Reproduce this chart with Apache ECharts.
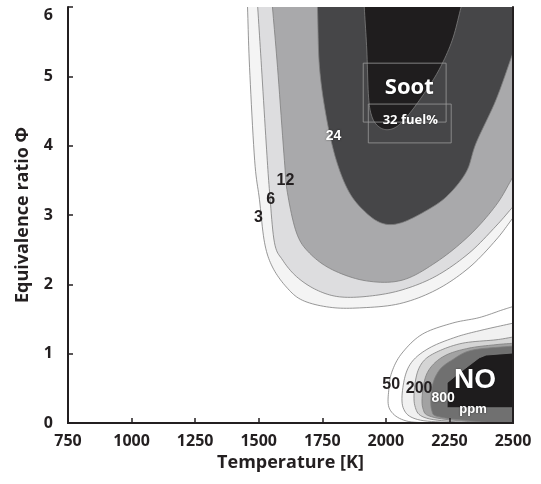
<!DOCTYPE html>
<html>
<head>
<meta charset="utf-8">
<script src="https://cdn.jsdelivr.net/npm/echarts@6/dist/echarts.min.js"></script>
<style>
  html, body { margin: 0; padding: 0; background: #fff; }
  #chart { width: 541px; height: 484px; }
</style>
</head>
<body>
<div id="chart"></div>
<script>
// ── Axes ──────────────────────────────────────────────────────────────
const tempRange = [750, 2500];   // K
const phiRange = [0, 6];

// ── Soot contours: fuel% levels, points are [T (K), phi] ─────────────
const sootLevels = [3, 6, 12, 24, 32];
const soot3 = [[1456, 6.0], [1464, 5.13], [1484, 3.79], [1503, 3.22], [1523, 2.60], [1554, 2.25],
  [1609, 1.96], [1672, 1.77], [1778, 1.67], [1896, 1.66], [2053, 1.72], [2198, 1.92],
  [2327, 2.24], [2433, 2.64], [2500, 2.96]];
const soot6 = [[1496, 6.0], [1511, 5.13], [1531, 3.94], [1543, 3.32], [1562, 2.60], [1594, 2.35],
  [1649, 2.11], [1727, 1.92], [1817, 1.82], [1935, 1.83], [2064, 1.92], [2198, 2.12],
  [2327, 2.45], [2433, 2.84], [2500, 3.12]];
const soot12 = [[1554, 6.0], [1574, 5.13], [1601, 3.79], [1613, 3.32], [1649, 2.74], [1700, 2.45],
  [1790, 2.21], [1923, 2.05], [2064, 2.06], [2198, 2.32], [2327, 2.70], [2433, 3.14],
  [2500, 3.55]];
const soot24 = [[1731, 6.0], [1739, 5.13], [1766, 4.41], [1805, 3.79], [1857, 3.32], [1923, 3.03],
  [1986, 2.88], [2053, 2.88], [2143, 3.03], [2237, 3.26], [2316, 3.62], [2355, 4.04],
  [2433, 4.66], [2500, 5.34]];
const soot32 = [[1915, 6.0], [1925, 5.38], [1932, 4.70], [1945, 4.42], [1970, 4.28], [2005, 4.23],
  [2045, 4.28], [2090, 4.45], [2150, 4.75], [2210, 5.10], [2261, 5.52], [2296, 6.0]];

// ── NO contours (ppm); 50 / 200 / 800 are labelled, the rest are bands
const noLevels = [50, 100, 200, 400, 800, 1600];
const no50 = [[2210, 0], [2080, 0.03], [2015, 0.2], [2012, 0.5], [2025, 0.75], [2064, 1.01],
  [2143, 1.28], [2261, 1.44], [2367, 1.52], [2457, 1.63], [2500, 1.68]];
const no100 = [[2280, 0], [2125, 0.05], [2068, 0.22], [2070, 0.58], [2100, 0.87], [2170, 1.08],
  [2276, 1.24], [2378, 1.34], [2500, 1.44]];
const no200 = [[2330, 0], [2160, 0.07], [2114, 0.25], [2117, 0.62], [2143, 0.87], [2198, 1.02],
  [2300, 1.15], [2433, 1.20], [2500, 1.24]];
const no400 = [[2380, 0], [2190, 0.08], [2145, 0.22], [2150, 0.58], [2178, 0.81], [2237, 0.98],
  [2327, 1.08], [2433, 1.13], [2500, 1.15]];
const no800 = [[2420, 0], [2220, 0.08], [2180, 0.19], [2182, 0.52], [2210, 0.76], [2261, 0.91],
  [2339, 1.05], [2500, 1.11]];
const no1600 = [[2500, 0.22], [2241, 0.22], [2241, 0.58], [2288, 0.72], [2367, 0.94], [2394, 0.98],
  [2500, 1.01]];

// ── Annotations [T, phi, text] ───────────────────────────────────────
const labels = [
  [2092, 4.83, 'Soot'], [2096, 4.37, '32 fuel%'], [1794, 4.14, '24'],
  [1605, 3.49, '12'], [1547, 3.22, '6'], [1499, 2.96, '3'],
  [2351, 0.61, 'NO'], [2021, 0.55, '50'], [2131, 0.50, '200'],
  [2225, 0.36, '800'], [2343, 0.19, 'ppm']
];
const labelBoxes = [[1911, 5.19, 2237, 4.34], [1931, 4.60, 2257, 4.04]];

// ── Styling ──────────────────────────────────────────────────────────
const INK = '#231f20';
const FONT = '"Open Sans", "Liberation Sans", sans-serif';

// kind: how the open curve is closed outside the plot frame
const contours = [
  { pts: soot3, kind: 'top', fill: '#f4f4f4', smooth: true },
  { pts: soot6, kind: 'top', fill: '#dddddf', smooth: true },
  { pts: soot12, kind: 'top', fill: '#a9a9ab', smooth: true },
  { pts: soot24, kind: 'top', fill: '#464648', smooth: true },
  { pts: soot32, kind: 'cap', fill: '#1f1d1e', smooth: true },
  { pts: no50, kind: 'bottom', fill: '#ffffff', smooth: true },
  { pts: no100, kind: 'bottom', fill: '#f1f1f1', smooth: true },
  { pts: no200, kind: 'bottom', fill: '#d5d5d5', smooth: true },
  { pts: no400, kind: 'bottom', fill: '#a2a2a2', smooth: true },
  { pts: no800, kind: 'bottom', fill: '#707070', smooth: true },
  { pts: no1600, kind: 'right', fill: '#1e1c1d', smooth: false }
];

const labelStyle = {
  'Soot': { size: 22, color: '#fff', family: FONT },
  '32 fuel%': { size: 13, color: '#fff', family: FONT },
  '24': { size: 14, color: '#fff', family: 'Liberation Sans' },
  '12': { size: 16, color: INK, family: 'Liberation Sans' },
  '6': { size: 16, color: INK, family: 'Liberation Sans' },
  '3': { size: 16, color: INK, family: 'Liberation Sans' },
  'NO': { size: 28, color: '#fff', family: 'Liberation Sans' },
  '50': { size: 16, color: INK, family: 'Liberation Sans' },
  '200': { size: 16, color: INK, family: 'Liberation Sans' },
  '800': { size: 14, color: '#fff', family: 'Liberation Sans' },
  'ppm': { size: 13, color: '#fff', family: 'Liberation Sans' }
};

// Catmull-Rom through pixel points (render smoothing only)
function catmull(pts, steps) {
  const out = [];
  const n = pts.length;
  for (let i = 0; i < n - 1; i++) {
    const p0 = pts[Math.max(i - 1, 0)], p1 = pts[i], p2 = pts[i + 1], p3 = pts[Math.min(i + 2, n - 1)];
    for (let s = 0; s < steps; s++) {
      const t = s / steps, t2 = t * t, t3 = t2 * t;
      out.push([0, 1].map(k => 0.5 * ((2 * p1[k]) + (-p0[k] + p2[k]) * t +
        (2 * p0[k] - 5 * p1[k] + 4 * p2[k] - p3[k]) * t2 + (-p0[k] + 3 * p1[k] - 3 * p2[k] + p3[k]) * t3)));
    }
  }
  out.push(pts[n - 1]);
  return out;
}

function extend(a, b) { return [a[0] + (a[0] - b[0]), a[1] + (a[1] - b[1])]; }

function polygonPoints(c, api) {
  const px = c.pts.map(p => api.coord(p));
  const n = px.length;
  const head = extend(px[0], px[1]), tail = extend(px[n - 1], px[n - 2]);
  const line = c.smooth ? catmull([head].concat(px, [tail]), 10) : [head].concat(px, [tail]);
  const r = api.coord([tempRange[1], phiRange[1]]), l = api.coord([tempRange[0], phiRange[0]]);
  const top = r[1] - 40, right = r[0] + 40, bottom = l[1] + 40;
  if (c.kind === 'top') return line.concat([[right, tail[1]], [right, top], [head[0], top]]);
  if (c.kind === 'cap') return line.concat([[tail[0], top], [head[0], top]]);
  if (c.kind === 'bottom') return line.concat([[right, tail[1]], [right, bottom], [head[0], bottom]]);
  return line.concat([[right, tail[1]], [right, head[1]]]);
}

const chart = echarts.init(document.getElementById('chart'), null, { renderer: 'canvas' });

const axisText = { color: INK, fontWeight: 'bold', fontFamily: FONT };

chart.setOption({
  animation: false,
  backgroundColor: '#fff',
  grid: { left: 68, right: 28, top: 7, bottom: 61 },
  xAxis: [{
    type: 'value', min: tempRange[0], max: tempRange[1], interval: 250, z: 10,
    axisLine: { lineStyle: { color: INK, width: 2 } },
    axisTick: { inside: true, length: 5, lineStyle: { color: INK, width: 1.5 } },
    axisLabel: { ...axisText, fontSize: 16, margin: 10, formatter: v => String(v) },
    splitLine: { show: false },
    name: 'Temperature [K]', nameLocation: 'middle', nameGap: 31,
    nameTextStyle: { ...axisText, fontSize: 18 }
  }, {
    type: 'value', position: 'top', min: tempRange[0], max: tempRange[1], z: 10,
    axisLine: { lineStyle: { color: INK, width: 2 } },
    axisTick: { show: false }, axisLabel: { show: false }, splitLine: { show: false }
  }],
  yAxis: [{
    type: 'value', min: phiRange[0], max: phiRange[1], interval: 1, z: 10,
    axisLine: { lineStyle: { color: INK, width: 2 } },
    axisTick: { inside: true, length: 5, lineStyle: { color: INK, width: 1.5 } },
    axisLabel: {
      ...axisText, fontSize: 16, margin: 15,
      formatter: v => (v === phiRange[1] ? '{top|' + v + '}' : String(v)),
      rich: { top: { ...axisText, fontSize: 16, padding: [16, 0, 0, 0] } }
    },
    splitLine: { show: false },
    name: 'Equivalence ratio Φ', nameLocation: 'middle', nameGap: 36, nameRotate: 90,
    nameTextStyle: { ...axisText, fontSize: 18 }
  }, {
    type: 'value', position: 'right', min: phiRange[0], max: phiRange[1], z: 10,
    axisLine: { lineStyle: { color: INK, width: 2 } },
    axisTick: { show: false }, axisLabel: { show: false }, splitLine: { show: false }
  }],
  series: [{
    type: 'custom',
    clip: true,
    silent: true,
    data: contours.map(c => c.pts[0]),
    renderItem: (params, api) => {
      const c = contours[params.dataIndex];
      return {
        type: 'polygon',
        shape: { points: polygonPoints(c, api) },
        style: { fill: c.fill, stroke: '#7d7d7d', lineWidth: 0.8 }
      };
    }
  }, {
    type: 'custom',
    silent: true,
    z: 5,
    data: labelBoxes.map(b => [b[0], b[1]]),
    renderItem: (params, api) => {
      const b = labelBoxes[params.dataIndex];
      const p1 = api.coord([b[0], b[1]]), p2 = api.coord([b[2], b[3]]);
      return {
        type: 'rect',
        shape: { x: p1[0], y: p1[1], width: p2[0] - p1[0], height: p2[1] - p1[1] },
        style: { fill: 'none', stroke: '#9a9a9a', lineWidth: 0.8 }
      };
    }
  }, {
    type: 'custom',
    silent: true,
    z: 6,
    data: labels.map(l => [l[0], l[1]]),
    renderItem: (params, api) => {
      const l = labels[params.dataIndex];
      const s = labelStyle[l[2]];
      const p = api.coord([l[0], l[1]]);
      return {
        type: 'text', x: p[0], y: p[1],
        style: {
          text: l[2], fill: s.color, fontSize: s.size, fontWeight: 'bold', fontFamily: s.family,
          align: 'center', verticalAlign: 'middle',
          textShadowColor: s.color === '#fff' ? 'rgba(0,0,0,0.5)' : 'transparent', textShadowBlur: 2
        }
      };
    }
  }]
});
</script>
</body>
</html>
